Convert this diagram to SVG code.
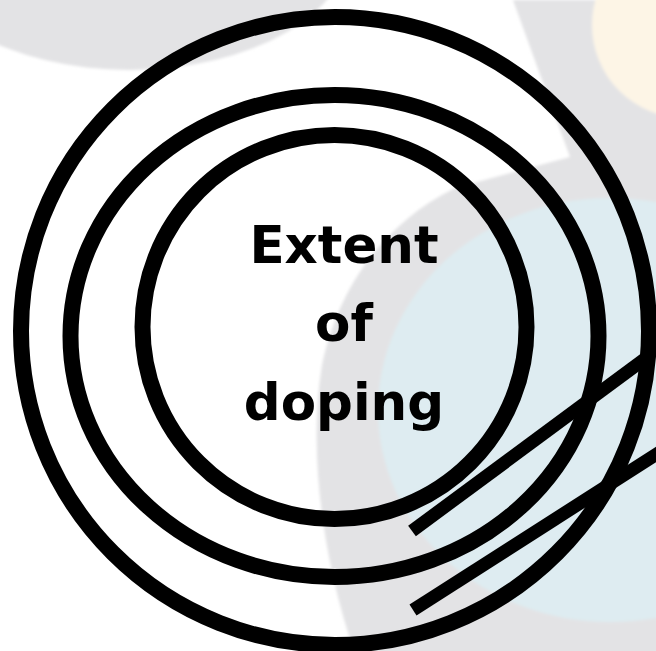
<svg xmlns="http://www.w3.org/2000/svg" width="656" height="651" viewBox="0 0 656 651">
  <style>
    .ring { fill: none; stroke: #000; stroke-width: 16; }
    .bar { stroke: #000; stroke-width: 13; stroke-linecap: butt; }
    .label { font-family: "DejaVu Sans", Verdana, sans-serif; font-weight: bold; font-size: 51.5px; fill: #000; text-anchor: middle; }
  </style>
  <defs>
    <filter id="soft" x="-10%" y="-10%" width="120%" height="120%">
      <feGaussianBlur stdDeviation="1.5"/>
    </filter>
  </defs>
  <rect width="656" height="651" fill="#ffffff"/>
  <g id="background" filter="url(#soft)">
    <ellipse cx="130" cy="-60" rx="222" ry="130" fill="#e3e3e5"/>
    <path d="M513,0 H660 V660 H357 C322,560 308,450 322,365 C340,280 390,220 455,188 L570,157 Z" fill="#e3e3e5"/>
    <circle cx="685" cy="25" r="93" fill="#fdf5e6"/>
    <ellipse cx="610" cy="410" rx="232" ry="212" fill="#deecf1"/>
  </g>
  <g id="rings">
    <circle id="outer" class="ring" cx="335" cy="331" r="314"/>
    <ellipse id="middle" class="ring" cx="334.5" cy="336" rx="264" ry="241"/>
    <circle id="inner" class="ring" cx="334.5" cy="327" r="192"/>
  </g>
  <g id="connectors">
    <line class="bar" x1="412" y1="531" x2="646" y2="358"/>
    <line class="bar" x1="413" y1="610" x2="660" y2="452"/>
  </g>
  <g id="label">
    <text class="label" x="344" y="263">Extent</text>
    <text class="label" x="344" y="341">of</text>
    <text class="label" x="344" y="420">doping</text>
  </g>
</svg>
